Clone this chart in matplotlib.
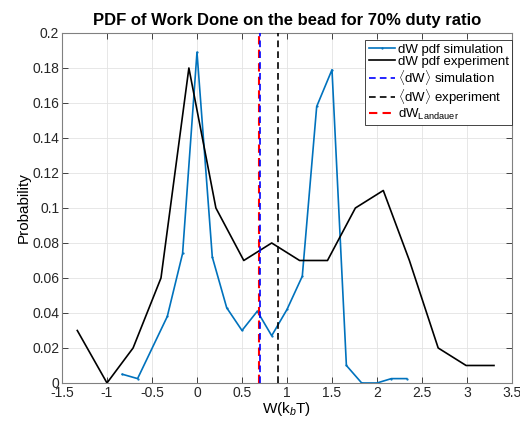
import matplotlib
matplotlib.use('Agg')
import matplotlib.pyplot as plt
from matplotlib.ticker import FuncFormatter
import numpy as np

plt.rcParams['font.family'] = ['Liberation Sans', 'DejaVu Sans']
plt.rcParams['mathtext.fontset'] = 'custom'
plt.rcParams['mathtext.rm'] = 'Liberation Sans'
plt.rcParams['mathtext.it'] = 'Liberation Sans:italic'

# simulation pdf (blue)
w_sim = [-0.83, -0.66, -0.33, -0.16, 0.0, 0.17, 0.33, 0.5, 0.67, 0.83, 1.0, 1.17, 1.33, 1.5, 1.66, 1.83, 2.0, 2.16, 2.33]
p_sim = [0.005, 0.0025, 0.038, 0.074, 0.189, 0.072, 0.043, 0.030, 0.041, 0.027, 0.042, 0.061, 0.158, 0.179, 0.010, 0.0, 0.0, 0.0025, 0.0025]

# experiment pdf (black)
w_exp = [-1.33, -1.0, -0.71, -0.40, -0.09, 0.21, 0.52, 0.83, 1.14, 1.45, 1.76, 2.07, 2.36, 2.68, 2.99, 3.30]
p_exp = [0.03, 0.0, 0.02, 0.06, 0.18, 0.10, 0.07, 0.08, 0.07, 0.07, 0.10, 0.11, 0.07, 0.02, 0.01, 0.01]

# mean values (vertical dashed lines)
mean_sim = 0.705
mean_exp = 0.90
w_landauer = np.log(2)

matlab_blue = '#0072BD'

fig = plt.figure(figsize=(5.2, 4.23), dpi=100)
ax = fig.add_axes([0.1192, 0.0946, 0.8654, 0.8274])

ax.plot(w_sim, p_sim, color=matlab_blue, lw=1.2, marker='.', markersize=1.2, label='dW pdf simulation')
ax.plot(w_exp, p_exp, color='black', lw=1.2, label='dW pdf experiment')
ax.axvline(w_landauer, color='red', ls='--', lw=1.5, dashes=(4, 2.5), label=r'dW$_{\mathrm{Landauer}}$', zorder=3)
ax.axvline(mean_sim, color='blue', ls='--', lw=1.2, dashes=(4, 2.5), label=r'$\langle$dW$\rangle$ simulation', zorder=4)
ax.axvline(mean_exp, color='black', ls='--', lw=1.2, dashes=(4, 2.5), label=r'$\langle$dW$\rangle$ experiment', zorder=4)

ax.set_xlim(-1.5, 3.5)
ax.set_ylim(0, 0.2)
ax.set_xticks(np.arange(-1.5, 3.51, 0.5))
ax.set_yticks(np.arange(0, 0.201, 0.02))
fmt = FuncFormatter(lambda v, pos: '%g' % round(v, 3))
ax.xaxis.set_major_formatter(fmt)
ax.yaxis.set_major_formatter(fmt)
ax.tick_params(direction='in', length=4, width=0.6, labelsize=10, colors='#262626', top=True, right=True, pad=2)
ax.grid(True, color='#e3e3e3', lw=0.6)
ax.set_axisbelow(True)
for s in ax.spines.values():
    s.set_color('#808080')
    s.set_linewidth(0.8)

ax.set_xlabel(r'W(k$_b$T)', fontsize=11, labelpad=0)
ax.set_ylabel('Probability', fontsize=11, labelpad=1)
ax.set_title('PDF of Work Done on the bead for 70% duty ratio', fontsize=12, fontweight='bold', pad=6)

handles, labels = ax.get_legend_handles_labels()
order = [0, 1, 3, 4, 2]
leg = ax.legend([handles[i] for i in order], [labels[i] for i in order],
                loc='upper right', bbox_to_anchor=(1.0, 0.98), fontsize=9.5,
                fancybox=False, framealpha=1, edgecolor='#262626',
                handlelength=2.0, handletextpad=0.2, labelspacing=0.0, borderpad=0.25,
                borderaxespad=0)
leg.get_frame().set_linewidth(0.6)

fig.savefig('out.png', dpi=100)
